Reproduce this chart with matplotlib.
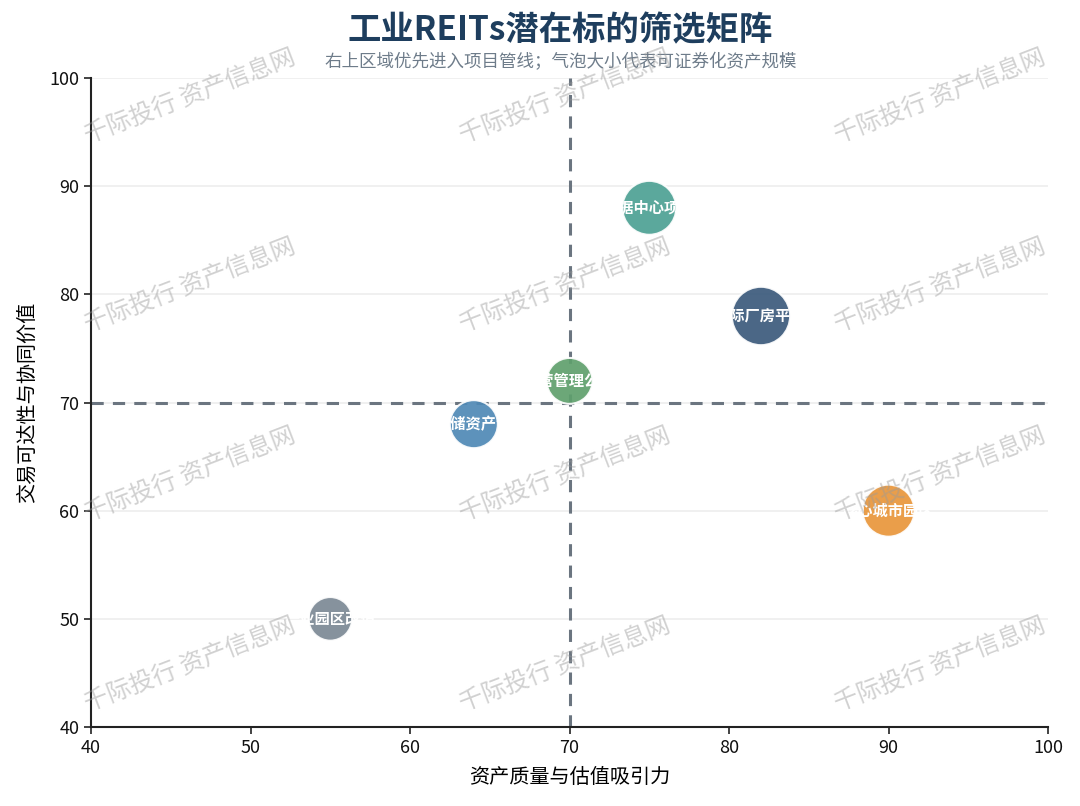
"""Industrial REITs screening matrix (bubble chart)."""

import matplotlib
matplotlib.use("Agg")
import matplotlib.pyplot as plt

plt.rcParams["font.family"] = ["Noto Sans CJK SC", "DejaVu Sans"]
plt.rcParams["axes.unicode_minus"] = False

names = ["数据中心项目", "国际厂房平台", "运营管理公司", "仓储资产包", "核心城市园区", "产业园区改造"]
quality = [75, 82, 70, 64, 90, 55]
access = [88, 78, 72, 68, 60, 50]
scale = [29, 34, 21, 23, 27, 19]
colors = ["#4DA194", "#3B5A7C", "#5FA06D", "#4F89B6", "#E9963A", "#7C8995"]

x_ticks = [40, 50, 60, 70, 80, 90, 100]
y_ticks = [40, 50, 60, 70, 80, 90, 100]
cut_x, cut_y = 70, 70

fig = plt.figure(figsize=(10.8, 8.06), dpi=100)
ax = fig.add_axes([0.0843, 0.098, 0.8861, 0.8052])

ax.set_xlim(40, 100)
ax.set_ylim(40, 100)
ax.set_xticks(x_ticks)
ax.set_yticks(y_ticks)
ax.yaxis.grid(True, color="#EEEEEE", lw=1.2, zorder=0)
ax.set_axisbelow(True)
for s in ("top", "right"):
    ax.spines[s].set_visible(False)
for s in ("left", "bottom"):
    ax.spines[s].set_linewidth(1.5)
    ax.spines[s].set_color("#222222")
ax.tick_params(labelsize=13, length=5, width=1.2, colors="#222222", labelcolor="#111111")

ax.axvline(cut_x, color="#6B7580", ls=(0, (4, 3)), lw=2.2, zorder=1)
ax.axhline(cut_y, color="#6B7580", ls=(0, (4, 3)), lw=2.2, zorder=1)

ax.scatter(quality, access, s=[v * 52 for v in scale], c=colors,
           alpha=0.92, edgecolors="white", linewidths=1.5, zorder=3)
for n, xv, yv in zip(names, quality, access):
    ax.text(xv, yv, n, color="white", fontsize=11, fontweight="bold",
            ha="center", va="center", zorder=4)

ax.set_xlabel("资产质量与估值吸引力", fontsize=14.5, labelpad=7)
ax.set_ylabel("交易可达性与协同价值", fontsize=14.5, labelpad=8)

fig.text(0.519, 0.962, "工业REITs潜在标的筛选矩阵", fontsize=24, fontweight="bold",
         color="#1E3E5E", ha="center", va="center")
fig.text(0.519, 0.923, "右上区域优先进入项目管线；气泡大小代表可证券化资产规模",
         fontsize=12.6, color="#6E7C8A", ha="center", va="center")

# watermark grid
for wy in (0.88, 0.645, 0.41, 0.175):
    for wx in (0.176, 0.523, 0.87):
        fig.text(wx, wy, "千际投行 资产信息网", fontsize=17.5, color="#9A9A9A",
                 alpha=0.45, rotation=21, ha="center", va="center", zorder=10)

fig.savefig("out.png", dpi=100)
